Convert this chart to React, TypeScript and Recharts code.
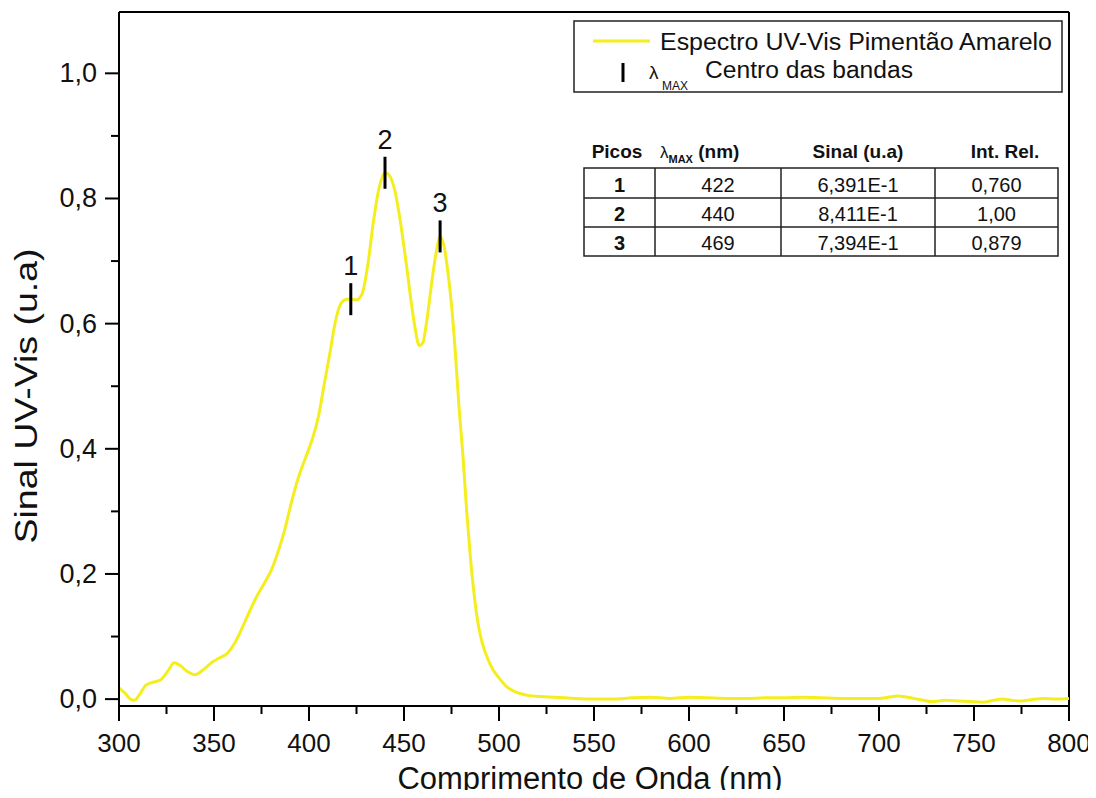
import React from "react";
import { ComposedChart, Line, Scatter, XAxis, YAxis, ReferenceLine } from "recharts";

// UV-Vis spectrum
const wavelengths = [
  300, 303, 306, 308, 311, 314, 318, 322, 326, 329, 332, 336, 340, 344, 349, 353, 357, 361, 365, 369,
  373, 377, 380, 384, 387, 390, 393, 396, 399, 402, 405, 408, 411, 414, 417, 420, 422, 425, 428, 431,
  434, 437, 440, 442, 445, 448, 451, 454, 456, 458, 460, 462, 465, 467, 469, 471, 473, 475, 477, 479,
  481, 483, 485, 487, 489, 491, 494, 497, 500, 504, 509, 515, 522, 530, 540, 550, 560, 570, 580, 590,
  600, 610, 620, 630, 640, 650, 660, 670, 680, 690, 700, 705, 710, 715, 722, 728, 735, 742, 748, 755,
  760, 765, 770, 775, 780, 787, 793, 800,
];
const signals = [
  0.018, 0.01, 0.0, -0.002, 0.008, 0.022, 0.027, 0.031, 0.046, 0.058, 0.054, 0.044, 0.039, 0.046, 0.059, 0.066, 0.073, 0.09, 0.115, 0.142,
  0.167, 0.188, 0.205, 0.238, 0.268, 0.305, 0.34, 0.368, 0.392, 0.418, 0.452, 0.503, 0.553, 0.605, 0.633, 0.639, 0.639, 0.638, 0.648, 0.695,
  0.765, 0.818, 0.841, 0.838, 0.815, 0.765, 0.7, 0.63, 0.59, 0.565, 0.57, 0.605, 0.675, 0.715, 0.739, 0.725, 0.685, 0.63, 0.555, 0.465,
  0.39, 0.3, 0.225, 0.165, 0.12, 0.092, 0.065, 0.046, 0.034, 0.02, 0.011, 0.006, 0.004, 0.003, 0.001, 0.0, 0.0, 0.002, 0.003, 0.001,
  0.003, 0.002, 0.001, 0.001, 0.002, 0.002, 0.003, 0.002, 0.001, 0.001, 0.001, 0.003, 0.005, 0.003, -0.001, -0.004, -0.002, -0.003, -0.004, -0.005,
  -0.002, 0.0, -0.002, -0.003, -0.001, 0.001, 0.0, 0.001,
];

// peak table
const peakIds = ["1", "2", "3"];
const peakWavelengths = [422, 440, 469];
const peakSignals = [0.6391, 0.8411, 0.7394];
const peakRelInt = ["0,760", "1,00", "0,879"];

const X_TICKS = [300, 325, 350, 375, 400, 425, 450, 475, 500, 525, 550, 575, 600, 625, 650, 675, 700, 725, 750, 775, 800];
const Y_TICKS = [0, 0.1, 0.2, 0.3, 0.4, 0.5, 0.6, 0.7, 0.8, 0.9, 1.0];
const Y_MIN = -0.011;
const Y_MAX = 1.098;

const YELLOW = "#f5ee1e";
const FONT = "'Liberation Sans', Arial, sans-serif";

const spectrum = wavelengths.map((nm, i) => ({ nm, signal: signals[i] }));
const peaks = peakIds.map((id, i) => ({ nm: peakWavelengths[i], signal: peakSignals[i], id }));

const comma = (v: number, digits: number) => v.toFixed(digits).replace(".", ",");

function XTick(props: any) {
  const { x, y, payload } = props;
  const major = payload.value % 50 === 0;
  return (
    <g>
      <line x1={x} y1={y} x2={x} y2={y + (major ? 15 : 8)} stroke="#000" strokeWidth={2} />
      {major && (
        <text x={x} y={y + 46} textAnchor="middle" fontSize={26} fontFamily={FONT} fill="#111">
          {payload.value}
        </text>
      )}
    </g>
  );
}

function YTick(props: any) {
  const { x, y, payload } = props;
  const major = Math.round(payload.value * 10) % 2 === 0;
  return (
    <g>
      <line x1={x - (major ? 14 : 8)} y1={y} x2={x} y2={y} stroke="#000" strokeWidth={2} />
      {major && (
        <text x={x - 22} y={y + 9} textAnchor="end" fontSize={27} fontFamily={FONT} fill="#111">
          {comma(payload.value, 1)}
        </text>
      )}
    </g>
  );
}

function PeakMark(props: any) {
  const { cx, cy, payload } = props;
  return (
    <g>
      <line x1={cx} y1={cy - 16} x2={cx} y2={cy + 16} stroke="#000" strokeWidth={3} />
      <text x={cx} y={cy - 24} textAnchor="middle" fontSize={27} fontFamily={FONT} fill="#111">
        {payload.id}
      </text>
    </g>
  );
}

const colEdges = [584, 655, 781, 935, 1058];
const rowEdges = [168, 198, 227, 256];

export default function App() {
  const colMid = (i: number) => (colEdges[i] + colEdges[i + 1]) / 2;
  return (
    <div style={{ position: "relative", width: 1088, height: 782, background: "#fff" }}>
      <ComposedChart width={1088} height={782} data={spectrum} margin={{ top: 4, right: 27, bottom: 4, left: 21 }}>
        <XAxis
          type="number"
          dataKey="nm"
          domain={[300, 800]}
          ticks={X_TICKS}
          interval={0}
          tickSize={0}
          tickMargin={0}
          tickLine={false}
          axisLine={{ stroke: "#000", strokeWidth: 2 }}
          tick={(p: any) => <XTick {...p} />}
          height={80}
          allowDataOverflow
        />
        <YAxis
          type="number"
          domain={[Y_MIN, Y_MAX]}
          ticks={Y_TICKS}
          interval={0}
          tickSize={0}
          tickMargin={0}
          tickLine={false}
          axisLine={{ stroke: "#000", strokeWidth: 2 }}
          tick={(p: any) => <YTick {...p} />}
          width={90}
          allowDataOverflow
        />
        <ReferenceLine y={Y_MAX} stroke="#000" strokeWidth={2} />
        <ReferenceLine x={800} stroke="#000" strokeWidth={2} />
        <Line
          type="monotone"
          dataKey="signal"
          stroke={YELLOW}
          strokeWidth={3}
          dot={false}
          isAnimationActive={false}
        />
        <Scatter data={peaks} dataKey="signal" shape={(p: any) => <PeakMark {...p} />} isAnimationActive={false} />
      </ComposedChart>

      <svg
        width={1096}
        height={798}
        style={{ position: "absolute", left: -8, top: -8, pointerEvents: "none" }}
        fontFamily={FONT}
      >
        {/* axis titles */}
        <text x={590} y={789} textAnchor="middle" fontSize={31} fill="#111" textLength={385} lengthAdjust="spacingAndGlyphs">
          Comprimento de Onda (nm)
        </text>
        <text
          transform="translate(37, 396) rotate(-90)"
          textAnchor="middle"
          fontSize={31}
          fill="#111"
          textLength={295}
          lengthAdjust="spacingAndGlyphs"
        >
          Sinal UV-Vis (u.a)
        </text>

        {/* legend */}
        <rect x={574} y={21} width={488} height={71} fill="#fff" stroke="#222" strokeWidth={1.5} />
        <line x1={593} y1={41} x2={650} y2={41} stroke={YELLOW} strokeWidth={3} />
        <text x={660} y={50} fontSize={23} fill="#111" textLength={392} lengthAdjust="spacingAndGlyphs">
          Espectro UV-Vis Pimentão Amarelo
        </text>
        <line x1={623} y1={63} x2={623} y2={82} stroke="#000" strokeWidth={3} />
        <text x={649} y={79} fontSize={19} fill="#111">λ</text>
        <text x={662} y={90} fontSize={12} fill="#111">MAX</text>
        <text x={705} y={78} fontSize={23} fill="#111" textLength={208} lengthAdjust="spacingAndGlyphs">
          Centro das bandas
        </text>

        {/* peak table */}
        <g fontSize={19} fontWeight="bold" fill="#111">
          <text x={617} y={158} textAnchor="middle">Picos</text>
          <text x={660} y={158}>
            <tspan fontWeight="normal" fontSize={17}>λ</tspan>
            <tspan fontSize={11} dy={5}>MAX</tspan>
            <tspan dy={-5}> (nm)</tspan>
          </text>
          <text x={858} y={158} textAnchor="middle">Sinal (u.a)</text>
          <text x={1005} y={158} textAnchor="middle">Int. Rel.</text>
        </g>
        <rect
          x={colEdges[0]}
          y={rowEdges[0]}
          width={colEdges[4] - colEdges[0]}
          height={rowEdges[3] - rowEdges[0]}
          fill="#fff"
          stroke="#222"
          strokeWidth={1.5}
        />
        {rowEdges.slice(1, 3).map((ry) => (
          <line key={ry} x1={colEdges[0]} y1={ry} x2={colEdges[4]} y2={ry} stroke="#222" strokeWidth={1.5} />
        ))}
        {colEdges.slice(1, 4).map((cx) => (
          <line key={cx} x1={cx} y1={rowEdges[0]} x2={cx} y2={rowEdges[3]} stroke="#222" strokeWidth={1.5} />
        ))}
        {peakIds.map((id, i) => {
          const base = rowEdges[i + 1] - 6;
          return (
            <g key={id} fontSize={20} fill="#111" textAnchor="middle">
              <text x={colMid(0)} y={base} fontWeight="bold">{id}</text>
              <text x={colMid(1)} y={base}>{peakWavelengths[i]}</text>
              <text x={colMid(2)} y={base}>{comma(peakSignals[i] * 10, 3)}E-1</text>
              <text x={colMid(3)} y={base}>{peakRelInt[i]}</text>
            </g>
          );
        })}
      </svg>
    </div>
  );
}
